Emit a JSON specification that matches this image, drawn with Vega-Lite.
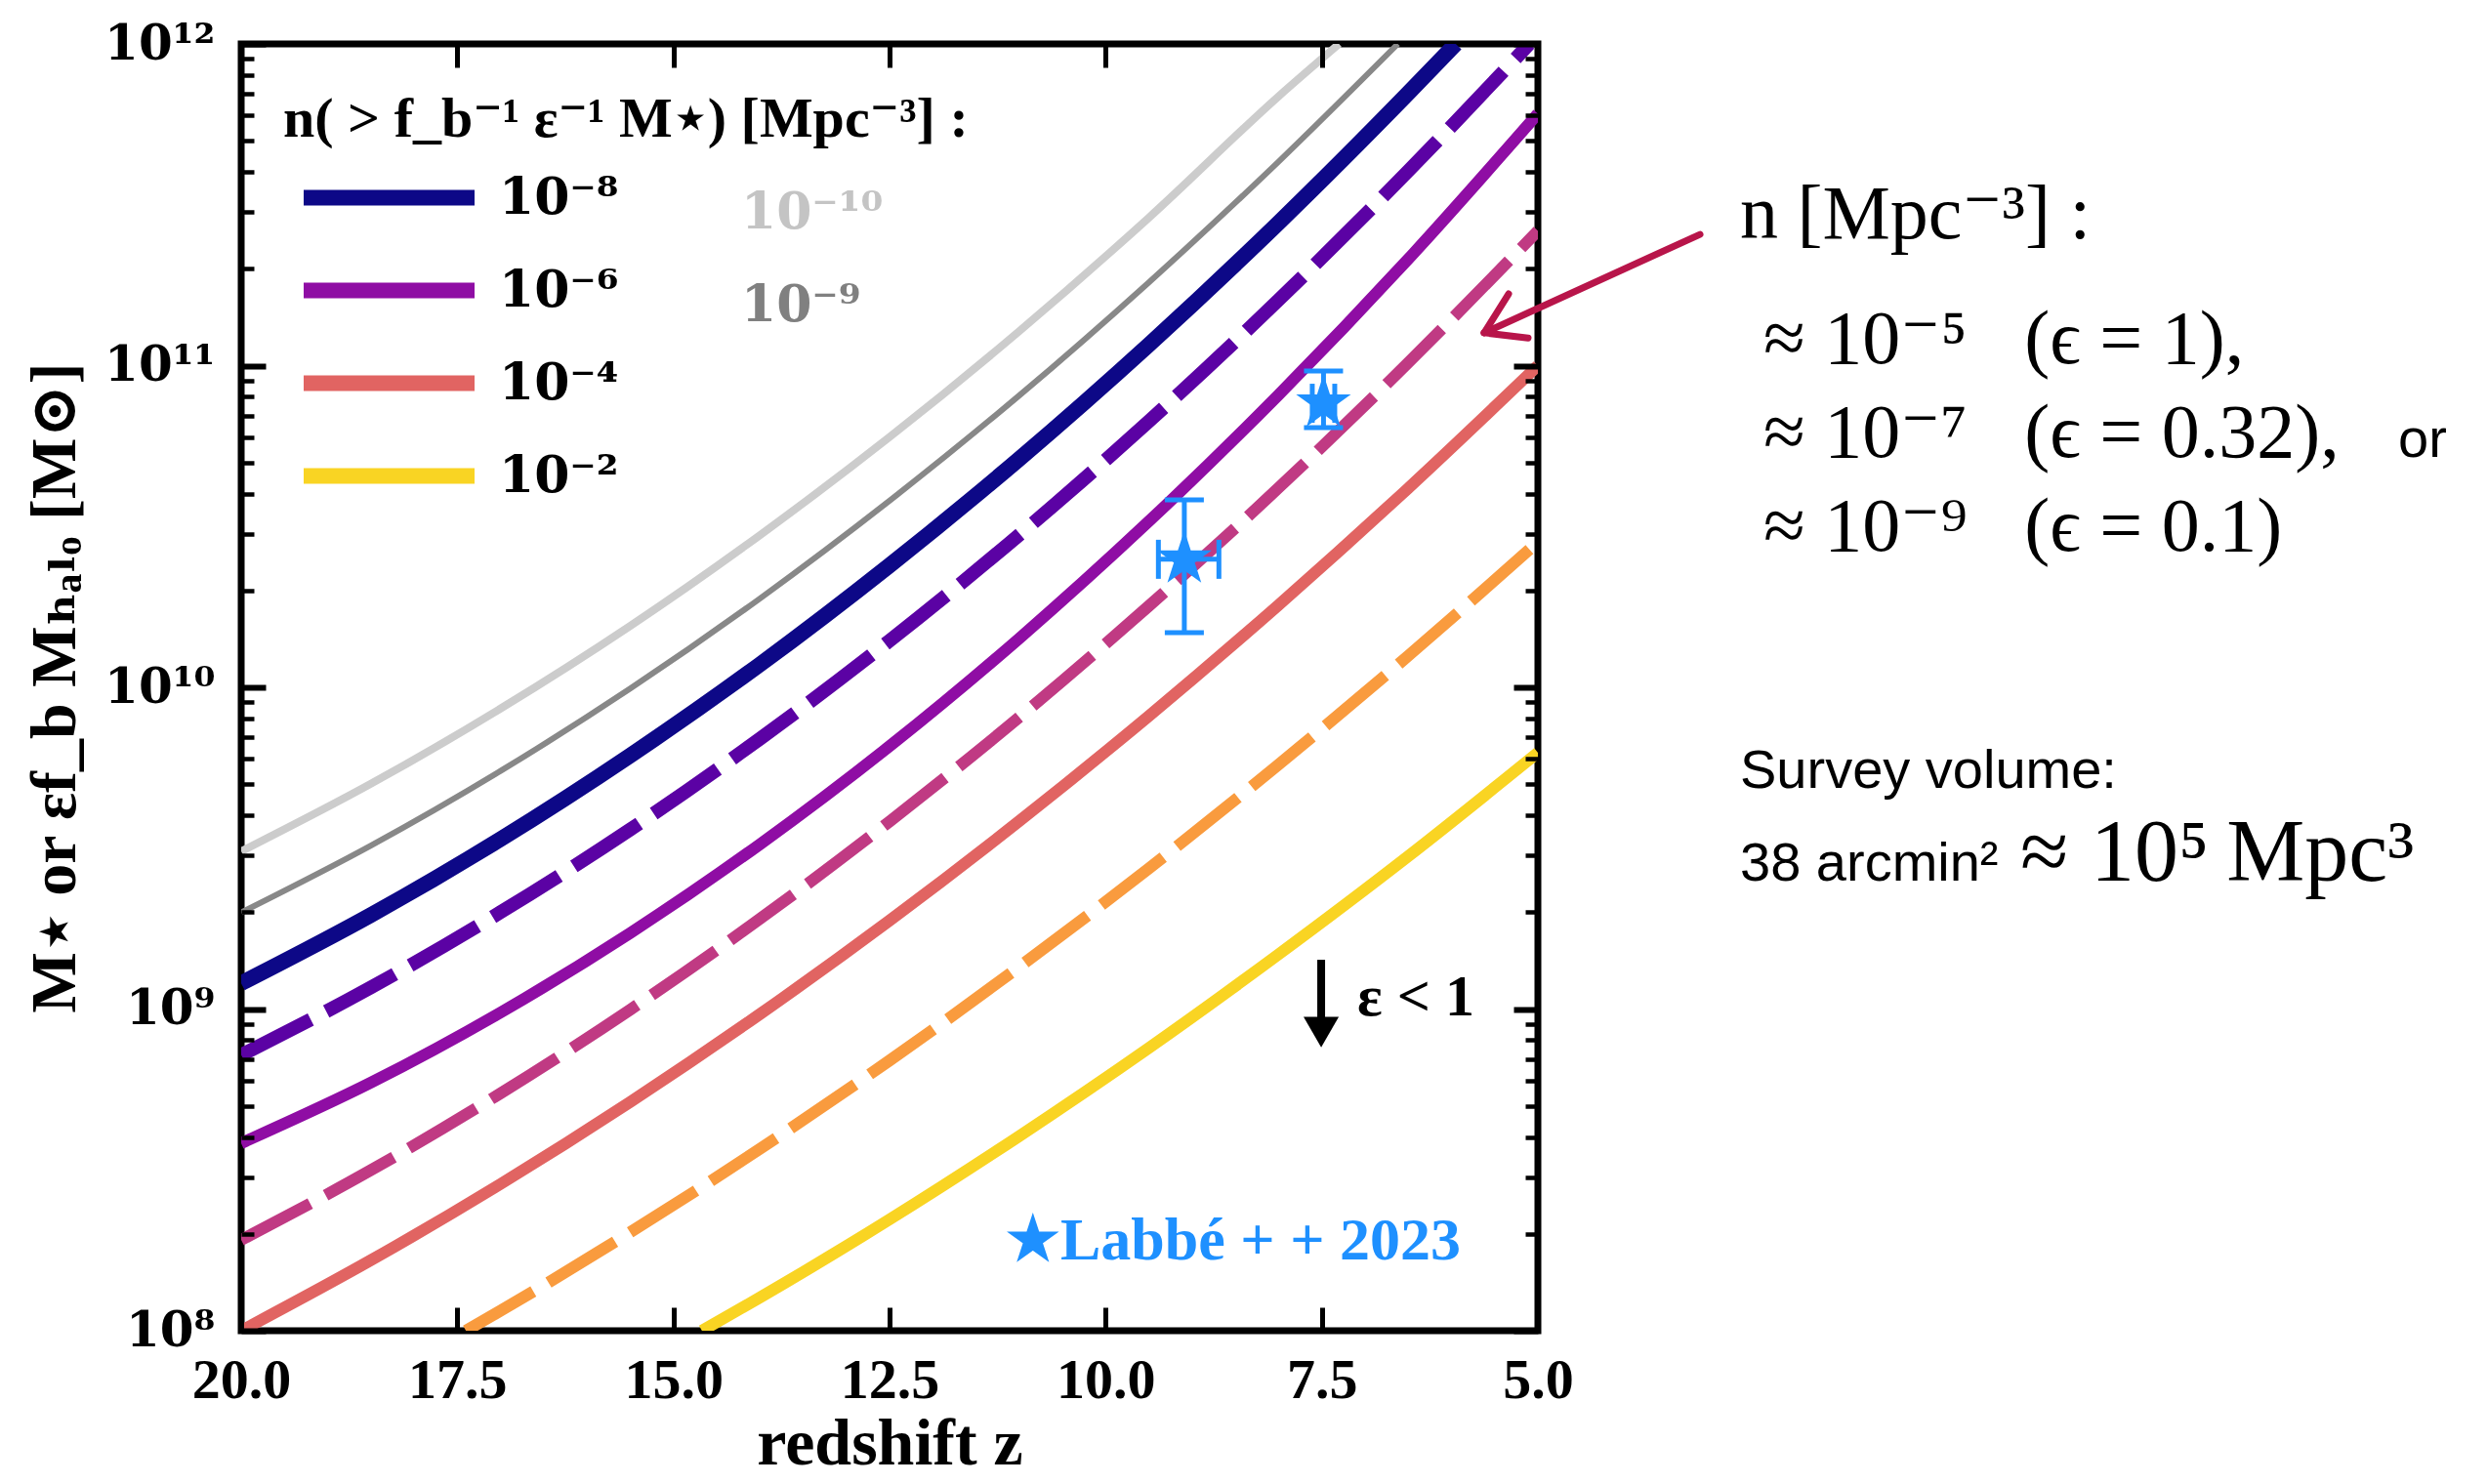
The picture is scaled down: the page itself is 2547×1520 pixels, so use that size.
{
  "$schema": "https://vega.github.io/schema/vega-lite/v6.json",
  "width": 1328,
  "height": 1318,
  "autosize": {"type": "none"},
  "padding": {"left": 247, "top": 45, "right": 972, "bottom": 157},
  "background": "white",
  "config": {
    "view": {"stroke": "black", "strokeWidth": 7},
    "axis": {"grid": false, "domain": false}
  },
  "datasets": {
    "curves": [
      {"n": "10⁻¹⁰", "z": 20, "logM": 9.49}, {"n": "10⁻¹⁰", "z": 18.5, "logM": 9.7}, {"n": "10⁻¹⁰", "z": 17, "logM": 9.934}, {"n": "10⁻¹⁰", "z": 15.5, "logM": 10.191}, {"n": "10⁻¹⁰", "z": 14, "logM": 10.473}, {"n": "10⁻¹⁰", "z": 12.5, "logM": 10.778}, {"n": "10⁻¹⁰", "z": 11, "logM": 11.107}, {"n": "10⁻¹⁰", "z": 9.5, "logM": 11.46}, {"n": "10⁻¹⁰", "z": 8, "logM": 11.837}, {"n": "10⁻¹⁰", "z": 7.3, "logM": 12.0},
      {"n": "10⁻⁹", "z": 20, "logM": 9.3}, {"n": "10⁻⁹", "z": 18.5, "logM": 9.508}, {"n": "10⁻⁹", "z": 17, "logM": 9.74}, {"n": "10⁻⁹", "z": 15.5, "logM": 9.996}, {"n": "10⁻⁹", "z": 14, "logM": 10.276}, {"n": "10⁻⁹", "z": 12.5, "logM": 10.58}, {"n": "10⁻⁹", "z": 11, "logM": 10.907}, {"n": "10⁻⁹", "z": 9.5, "logM": 11.259}, {"n": "10⁻⁹", "z": 8, "logM": 11.634}, {"n": "10⁻⁹", "z": 6.62, "logM": 12.0},
      {"n": "10⁻⁸", "z": 20, "logM": 9.08}, {"n": "10⁻⁸", "z": 18.5, "logM": 9.292}, {"n": "10⁻⁸", "z": 17, "logM": 9.528}, {"n": "10⁻⁸", "z": 15.5, "logM": 9.788}, {"n": "10⁻⁸", "z": 14, "logM": 10.071}, {"n": "10⁻⁸", "z": 12.5, "logM": 10.379}, {"n": "10⁻⁸", "z": 11, "logM": 10.71}, {"n": "10⁻⁸", "z": 9.5, "logM": 11.065}, {"n": "10⁻⁸", "z": 8, "logM": 11.444}, {"n": "10⁻⁸", "z": 6.5, "logM": 11.847}, {"n": "10⁻⁸", "z": 5.95, "logM": 12.0},
      {"n": "10⁻⁷", "z": 20, "logM": 8.857}, {"n": "10⁻⁷", "z": 18.5, "logM": 9.067}, {"n": "10⁻⁷", "z": 17, "logM": 9.301}, {"n": "10⁻⁷", "z": 15.5, "logM": 9.558}, {"n": "10⁻⁷", "z": 14, "logM": 9.84}, {"n": "10⁻⁷", "z": 12.5, "logM": 10.145}, {"n": "10⁻⁷", "z": 11, "logM": 10.474}, {"n": "10⁻⁷", "z": 9.5, "logM": 10.827}, {"n": "10⁻⁷", "z": 8, "logM": 11.204}, {"n": "10⁻⁷", "z": 6.5, "logM": 11.605}, {"n": "10⁻⁷", "z": 5.1, "logM": 12.0},
      {"n": "10⁻⁶", "z": 20, "logM": 8.583}, {"n": "10⁻⁶", "z": 18.5, "logM": 8.771}, {"n": "10⁻⁶", "z": 17, "logM": 8.989}, {"n": "10⁻⁶", "z": 15.5, "logM": 9.236}, {"n": "10⁻⁶", "z": 14, "logM": 9.512}, {"n": "10⁻⁶", "z": 12.5, "logM": 9.817}, {"n": "10⁻⁶", "z": 11, "logM": 10.152}, {"n": "10⁻⁶", "z": 9.5, "logM": 10.516}, {"n": "10⁻⁶", "z": 8, "logM": 10.909}, {"n": "10⁻⁶", "z": 6.5, "logM": 11.331}, {"n": "10⁻⁶", "z": 5, "logM": 11.783},
      {"n": "10⁻⁵", "z": 20, "logM": 8.282}, {"n": "10⁻⁵", "z": 18.5, "logM": 8.499}, {"n": "10⁻⁵", "z": 17, "logM": 8.738}, {"n": "10⁻⁵", "z": 15.5, "logM": 8.998}, {"n": "10⁻⁵", "z": 14, "logM": 9.28}, {"n": "10⁻⁵", "z": 12.5, "logM": 9.583}, {"n": "10⁻⁵", "z": 11, "logM": 9.907}, {"n": "10⁻⁵", "z": 9.5, "logM": 10.253}, {"n": "10⁻⁵", "z": 8, "logM": 10.62}, {"n": "10⁻⁵", "z": 6.5, "logM": 11.009}, {"n": "10⁻⁵", "z": 5, "logM": 11.419},
      {"n": "10⁻⁴", "z": 20, "logM": 8.0}, {"n": "10⁻⁴", "z": 18.5, "logM": 8.219}, {"n": "10⁻⁴", "z": 17, "logM": 8.456}, {"n": "10⁻⁴", "z": 15.5, "logM": 8.711}, {"n": "10⁻⁴", "z": 14, "logM": 8.984}, {"n": "10⁻⁴", "z": 12.5, "logM": 9.275}, {"n": "10⁻⁴", "z": 11, "logM": 9.584}, {"n": "10⁻⁴", "z": 9.5, "logM": 9.911}, {"n": "10⁻⁴", "z": 8, "logM": 10.256}, {"n": "10⁻⁴", "z": 6.5, "logM": 10.619}, {"n": "10⁻⁴", "z": 5, "logM": 11.0},
      {"n": "10⁻³", "z": 17.4, "logM": 8.0}, {"n": "10⁻³", "z": 17, "logM": 8.062}, {"n": "10⁻³", "z": 15.5, "logM": 8.306}, {"n": "10⁻³", "z": 14, "logM": 8.565}, {"n": "10⁻³", "z": 12.5, "logM": 8.84}, {"n": "10⁻³", "z": 11, "logM": 9.131}, {"n": "10⁻³", "z": 9.5, "logM": 9.437}, {"n": "10⁻³", "z": 8, "logM": 9.76}, {"n": "10⁻³", "z": 6.5, "logM": 10.098}, {"n": "10⁻³", "z": 5, "logM": 10.452},
      {"n": "10⁻²", "z": 14.67, "logM": 8.0}, {"n": "10⁻²", "z": 14, "logM": 8.103}, {"n": "10⁻²", "z": 12.5, "logM": 8.346}, {"n": "10⁻²", "z": 11, "logM": 8.605}, {"n": "10⁻²", "z": 9.5, "logM": 8.879}, {"n": "10⁻²", "z": 8, "logM": 9.17}, {"n": "10⁻²", "z": 6.5, "logM": 9.475}, {"n": "10⁻²", "z": 5, "logM": 9.797}
    ],
    "stars": [
      {"z": 9.09, "logM": 10.398, "z_lo": 8.69, "z_hi": 9.39, "logM_lo": 10.17, "logM_hi": 10.583},
      {"z": 7.48, "logM": 10.883, "z_lo": 7.35, "z_hi": 7.61, "logM_lo": 10.807, "logM_hi": 10.983}
    ],
    "notes": [
      {"role": "legend_title", "text": "n( > f_b⁻¹ ε⁻¹ M⋆)  [Mpc⁻³] :", "z": 19.514, "logM": 11.712},
      {"role": "gray10", "text": "10⁻¹⁰", "z": 14.217, "logM": 11.426},
      {"role": "gray9", "text": "10⁻⁹", "z": 14.217, "logM": 11.138},
      {"role": "eps", "text": "ε < 1", "z": 7.089, "logM": 8.98},
      {"role": "labbe", "text": "★Labbé + + 2023", "z": 11.156, "logM": 8.222},
      {"role": "right_serif", "text": "n [Mpc⁻³] :", "z": 2.662, "logM": 11.396},
      {"role": "right_serif", "text": "≈ 10⁻⁵\u2002 (ϵ = 1),", "z": 2.391, "logM": 11.008},
      {"role": "right_serif", "text": "≈ 10⁻⁷\u2002 (ϵ = 0.32),", "z": 2.391, "logM": 10.716},
      {"role": "right_serif", "text": "≈ 10⁻⁹\u2002 (ϵ = 0.1)", "z": 2.391, "logM": 10.425},
      {"role": "volume_serif", "text": "≈ 10⁵\u2009Mpc³", "z": -0.58, "logM": 9.399},
      {"role": "right_sans", "text": "or", "z": -4.951, "logM": 10.716},
      {"role": "right_sans", "text": "Survey volume:", "z": 2.662, "logM": 9.687},
      {"role": "right_sans", "text": "38 arcmin²", "z": 2.662, "logM": 9.399}
    ],
    "eps_arrow": [
      {"z": 7.507, "logM": 9.153, "logM2": 8.96}
    ],
    "eps_head": [
      {"z": 7.507, "logM": 8.928}
    ],
    "pointer": [
      {"z": 3.125, "logM": 11.408, "z2": 5.621, "logM2": 11.102},
      {"z": 5.339, "logM": 11.223, "z2": 5.621, "logM2": 11.102},
      {"z": 5.113, "logM": 11.086, "z2": 5.621, "logM2": 11.102}
    ]
  },
  "layer": [
    {
      "data": {"name": "curves"},
      "transform": [{"filter": "datum.n == '10⁻⁸'"}],
      "mark": {"type": "line", "clip": true, "interpolate": "monotone", "strokeWidth": 16},
      "encoding": {
        "x": {
          "field": "z", "type": "quantitative",
          "scale": {"domain": [5, 20], "reverse": true, "nice": false, "zero": false},
          "axis": {
            "orient": "bottom", "values": [20, 17.5, 15, 12.5, 10, 7.5, 5], "format": ".1f",
            "tickSize": -24, "tickWidth": 5, "tickColor": "black",
            "labelPadding": 46, "labelFont": "Liberation Serif", "labelFontWeight": "bold", "labelFontSize": 58,
            "labelColor": "black", "labelFlush": false, "labelOverlap": false,
            "title": "redshift z", "titleFont": "Liberation Serif", "titleFontWeight": "bold", "titleFontSize": 68,
            "titleColor": "black", "titlePadding": 2, "zindex": 1
          }
        },
        "y": {
          "field": "logM", "type": "quantitative",
          "scale": {"domain": [8, 12], "nice": false, "zero": false},
          "axis": {
            "orient": "left",
            "values": [8, 8.30103, 8.47712, 8.60206, 8.69897, 8.77815, 8.8451, 8.90309, 8.95424, 9, 9.30103, 9.47712, 9.60206, 9.69897, 9.77815, 9.8451, 9.90309, 9.95424, 10, 10.30103, 10.47712, 10.60206, 10.69897, 10.77815, 10.8451, 10.90309, 10.95424, 11, 11.30103, 11.47712, 11.60206, 11.69897, 11.77815, 11.8451, 11.90309, 11.95424, 12],
            "labelExpr": "datum.value == 8 ? '10⁸' : datum.value == 9 ? '10⁹' : datum.value == 10 ? '10¹⁰' : datum.value == 11 ? '10¹¹' : datum.value == 12 ? '10¹²' : ''",
            "tickSize": {"condition": {"test": "datum.value % 1 == 0", "value": -25}, "value": -13},
            "tickWidth": {"condition": {"test": "datum.value % 1 == 0", "value": 6}, "value": 4.5},
            "tickColor": "black",
            "labelPadding": 52, "labelFont": "DejaVu Serif", "labelFontWeight": "bold", "labelFontSize": 50,
            "labelColor": "black", "labelFlush": false, "labelOverlap": false,
            "title": "M⋆  or  εf_b Mₕₐₗₒ [M⊙]", "titleFont": "Liberation Serif, DejaVu Serif", "titleFontWeight": "bold", "titleFontSize": 66,
            "titleColor": "black", "titlePadding": 16, "zindex": 1
          }
        },
        "color": {
          "field": "n", "type": "nominal",
          "scale": {
            "domain": ["10⁻¹⁰", "10⁻⁹", "10⁻⁸", "10⁻⁷", "10⁻⁶", "10⁻⁵", "10⁻⁴", "10⁻³", "10⁻²"],
            "range": ["#cccccc", "#888888", "#0d0887", "#5b02a4", "#8f0da4", "#c03a83", "#e16462", "#f99b3e", "#f9d423"]
          },
          "legend": {
            "orient": "none", "legendX": 114, "legendY": 120, "direction": "vertical",
            "values": ["10⁻⁸", "10⁻⁶", "10⁻⁴", "10⁻²"], "title": null,
            "symbolType": "M-3,0H3", "symbolSize": 3403, "symbolStrokeWidth": 16, "symbolOpacity": 1,
            "labelFont": "DejaVu Serif", "labelFontWeight": "bold", "labelFontSize": 52, "labelColor": "black",
            "labelOffset": 75, "rowPadding": 25, "padding": 0
          }
        },
        "order": {"field": "z", "type": "quantitative", "sort": "descending"}
      }
    },
    {
      "data": {"name": "curves"},
      "transform": [{"filter": "datum.n == '10⁻¹⁰'"}],
      "mark": {"type": "line", "clip": true, "interpolate": "monotone", "strokeWidth": 8},
      "encoding": {
        "x": {"field": "z", "type": "quantitative", "axis": null},
        "y": {"field": "logM", "type": "quantitative", "axis": null},
        "color": {"field": "n", "type": "nominal"},
        "order": {"field": "z", "type": "quantitative", "sort": "descending"}
      }
    },
    {
      "data": {"name": "curves"},
      "transform": [{"filter": "datum.n == '10⁻⁹'"}],
      "mark": {"type": "line", "clip": true, "interpolate": "monotone", "strokeWidth": 6},
      "encoding": {
        "x": {"field": "z", "type": "quantitative", "axis": null},
        "y": {"field": "logM", "type": "quantitative", "axis": null},
        "color": {"field": "n", "type": "nominal"},
        "order": {"field": "z", "type": "quantitative", "sort": "descending"}
      }
    },
    {
      "data": {"name": "curves"},
      "transform": [{"filter": "datum.n == '10⁻⁵' || datum.n == '10⁻³'"}],
      "mark": {"type": "line", "clip": true, "interpolate": "monotone", "strokeWidth": 12, "strokeDash": [80, 18], "strokeCap": "butt"},
      "encoding": {
        "x": {"field": "z", "type": "quantitative", "axis": null},
        "y": {"field": "logM", "type": "quantitative", "axis": null},
        "color": {"field": "n", "type": "nominal"},
        "order": {"field": "z", "type": "quantitative", "sort": "descending"}
      }
    },
    {
      "data": {"name": "curves"},
      "transform": [{"filter": "datum.n == '10⁻⁶' || datum.n == '10⁻⁴' || datum.n == '10⁻²'"}],
      "mark": {"type": "line", "clip": true, "interpolate": "monotone", "strokeWidth": 12},
      "encoding": {
        "x": {"field": "z", "type": "quantitative", "axis": null},
        "y": {"field": "logM", "type": "quantitative", "axis": null},
        "color": {"field": "n", "type": "nominal"},
        "order": {"field": "z", "type": "quantitative", "sort": "descending"}
      }
    },
    {
      "data": {"name": "curves"},
      "transform": [{"filter": "datum.n == '10⁻⁷'"}],
      "mark": {"type": "line", "clip": true, "interpolate": "monotone", "strokeWidth": 14, "strokeDash": [80, 18], "strokeCap": "butt"},
      "encoding": {
        "x": {"field": "z", "type": "quantitative", "axis": null},
        "y": {"field": "logM", "type": "quantitative", "axis": null},
        "color": {"field": "n", "type": "nominal"},
        "order": {"field": "z", "type": "quantitative", "sort": "descending"}
      }
    },
    {
      "data": {"name": "stars"},
      "mark": {"type": "rule", "color": "#1e90ff", "strokeWidth": 5},
      "encoding": {
        "x": {
          "field": "z", "type": "quantitative",
          "axis": {"orient": "top", "values": [20, 17.5, 15, 12.5, 10, 7.5, 5], "labels": false, "tickSize": -24, "tickWidth": 5, "tickColor": "black", "title": null, "zindex": 1}
        },
        "y": {
          "field": "logM_lo", "type": "quantitative",
          "axis": {
            "orient": "right",
            "values": [8, 8.30103, 8.47712, 8.60206, 8.69897, 8.77815, 8.8451, 8.90309, 8.95424, 9, 9.30103, 9.47712, 9.60206, 9.69897, 9.77815, 9.8451, 9.90309, 9.95424, 10, 10.30103, 10.47712, 10.60206, 10.69897, 10.77815, 10.8451, 10.90309, 10.95424, 11, 11.30103, 11.47712, 11.60206, 11.69897, 11.77815, 11.8451, 11.90309, 11.95424, 12],
            "labels": false,
            "tickSize": {"condition": {"test": "datum.value % 1 == 0", "value": -25}, "value": -13},
            "tickWidth": {"condition": {"test": "datum.value % 1 == 0", "value": 6}, "value": 4.5},
            "tickColor": "black", "title": null, "zindex": 1
          }
        },
        "y2": {"field": "logM_hi"}
      }
    },
    {
      "data": {"name": "stars"},
      "mark": {"type": "rule", "color": "#1e90ff", "strokeWidth": 5},
      "encoding": {
        "x": {"field": "z_lo", "type": "quantitative", "axis": null},
        "x2": {"field": "z_hi"},
        "y": {"field": "logM", "type": "quantitative", "axis": null}
      }
    },
    {
      "data": {"name": "stars"},
      "mark": {"type": "tick", "orient": "horizontal", "color": "#1e90ff", "size": 40, "thickness": 5, "opacity": 1},
      "encoding": {
        "x": {"field": "z", "type": "quantitative", "axis": null},
        "y": {"field": "logM_lo", "type": "quantitative", "axis": null}
      }
    },
    {
      "data": {"name": "stars"},
      "mark": {"type": "tick", "orient": "horizontal", "color": "#1e90ff", "size": 40, "thickness": 5, "opacity": 1},
      "encoding": {
        "x": {"field": "z", "type": "quantitative", "axis": null},
        "y": {"field": "logM_hi", "type": "quantitative", "axis": null}
      }
    },
    {
      "data": {"name": "stars"},
      "mark": {"type": "tick", "orient": "vertical", "color": "#1e90ff", "size": 40, "thickness": 5, "opacity": 1},
      "encoding": {
        "x": {"field": "z_lo", "type": "quantitative", "axis": null},
        "y": {"field": "logM", "type": "quantitative", "axis": null}
      }
    },
    {
      "data": {"name": "stars"},
      "mark": {"type": "tick", "orient": "vertical", "color": "#1e90ff", "size": 40, "thickness": 5, "opacity": 1},
      "encoding": {
        "x": {"field": "z_hi", "type": "quantitative", "axis": null},
        "y": {"field": "logM", "type": "quantitative", "axis": null}
      }
    },
    {
      "data": {"name": "stars"},
      "mark": {"type": "point", "filled": true, "opacity": 1, "color": "#1e90ff", "size": 3480,
        "shape": "M0,-1L0.2245,-0.309L0.9511,-0.309L0.3633,0.118L0.5878,0.809L0,0.382L-0.5878,0.809L-0.3633,0.118L-0.9511,-0.309L-0.2245,-0.309Z"},
      "encoding": {
        "x": {"field": "z", "type": "quantitative", "axis": null},
        "y": {"field": "logM", "type": "quantitative", "axis": null}
      }
    },
    {
      "data": {"name": "pointer"},
      "mark": {"type": "rule", "color": "#b8154a", "strokeWidth": 7, "strokeCap": "round"},
      "encoding": {
        "x": {"field": "z", "type": "quantitative", "axis": null},
        "x2": {"field": "z2"},
        "y": {"field": "logM", "type": "quantitative", "axis": null},
        "y2": {"field": "logM2"}
      }
    },
    {
      "data": {"name": "eps_arrow"},
      "mark": {"type": "rule", "color": "black", "strokeWidth": 8},
      "encoding": {
        "x": {"field": "z", "type": "quantitative", "axis": null},
        "y": {"field": "logM", "type": "quantitative", "axis": null},
        "y2": {"field": "logM2"}
      }
    },
    {
      "data": {"name": "eps_head"},
      "mark": {"type": "point", "shape": "triangle-down", "filled": true, "opacity": 1, "color": "black", "size": 1300},
      "encoding": {
        "x": {"field": "z", "type": "quantitative", "axis": null},
        "y": {"field": "logM", "type": "quantitative", "axis": null}
      }
    },
    {
      "data": {"name": "notes"},
      "transform": [{"filter": "datum.role == 'legend_title'"}],
      "mark": {"type": "text", "align": "left", "baseline": "alphabetic", "font": "Liberation Serif, DejaVu Serif", "fontWeight": "bold", "fontSize": 58, "color": "black"},
      "encoding": {
        "x": {"field": "z", "type": "quantitative", "axis": null},
        "y": {"field": "logM", "type": "quantitative", "axis": null},
        "text": {"field": "text"}
      }
    },
    {
      "data": {"name": "notes"},
      "transform": [{"filter": "datum.role == 'gray10'"}],
      "mark": {"type": "text", "align": "left", "baseline": "alphabetic", "font": "DejaVu Serif", "fontWeight": "bold", "fontSize": 52, "color": "#c4c4c4"},
      "encoding": {
        "x": {"field": "z", "type": "quantitative", "axis": null},
        "y": {"field": "logM", "type": "quantitative", "axis": null},
        "text": {"field": "text"}
      }
    },
    {
      "data": {"name": "notes"},
      "transform": [{"filter": "datum.role == 'gray9'"}],
      "mark": {"type": "text", "align": "left", "baseline": "alphabetic", "font": "DejaVu Serif", "fontWeight": "bold", "fontSize": 52, "color": "#808080"},
      "encoding": {
        "x": {"field": "z", "type": "quantitative", "axis": null},
        "y": {"field": "logM", "type": "quantitative", "axis": null},
        "text": {"field": "text"}
      }
    },
    {
      "data": {"name": "notes"},
      "transform": [{"filter": "datum.role == 'eps'"}],
      "mark": {"type": "text", "align": "left", "baseline": "alphabetic", "font": "Liberation Serif, DejaVu Serif", "fontWeight": "bold", "fontSize": 60, "color": "black"},
      "encoding": {
        "x": {"field": "z", "type": "quantitative", "axis": null},
        "y": {"field": "logM", "type": "quantitative", "axis": null},
        "text": {"field": "text"}
      }
    },
    {
      "data": {"name": "notes"},
      "transform": [{"filter": "datum.role == 'labbe'"}],
      "mark": {"type": "text", "align": "left", "baseline": "alphabetic", "font": "Liberation Serif, DejaVu Serif", "fontWeight": "bold", "fontSize": 62, "color": "#1e90ff"},
      "encoding": {
        "x": {"field": "z", "type": "quantitative", "axis": null},
        "y": {"field": "logM", "type": "quantitative", "axis": null},
        "text": {"field": "text"}
      }
    },
    {
      "data": {"name": "notes"},
      "transform": [{"filter": "datum.role == 'right_serif'"}],
      "mark": {"type": "text", "align": "left", "baseline": "alphabetic", "font": "Liberation Serif, DejaVu Serif", "fontSize": 78, "color": "black"},
      "encoding": {
        "x": {"field": "z", "type": "quantitative", "axis": null},
        "y": {"field": "logM", "type": "quantitative", "axis": null},
        "text": {"field": "text"}
      }
    },
    {
      "data": {"name": "notes"},
      "transform": [{"filter": "datum.role == 'volume_serif'"}],
      "mark": {"type": "text", "align": "left", "baseline": "alphabetic", "font": "Liberation Serif, DejaVu Serif", "fontSize": 90, "color": "black"},
      "encoding": {
        "x": {"field": "z", "type": "quantitative", "axis": null},
        "y": {"field": "logM", "type": "quantitative", "axis": null},
        "text": {"field": "text"}
      }
    },
    {
      "data": {"name": "notes"},
      "transform": [{"filter": "datum.role == 'right_sans'"}],
      "mark": {"type": "text", "align": "left", "baseline": "alphabetic", "font": "Liberation Sans", "fontSize": 56, "color": "black"},
      "encoding": {
        "x": {"field": "z", "type": "quantitative", "axis": null},
        "y": {"field": "logM", "type": "quantitative", "axis": null},
        "text": {"field": "text"}
      }
    }
  ],
  "resolve": {"axis": {"x": "independent", "y": "independent"}}
}
